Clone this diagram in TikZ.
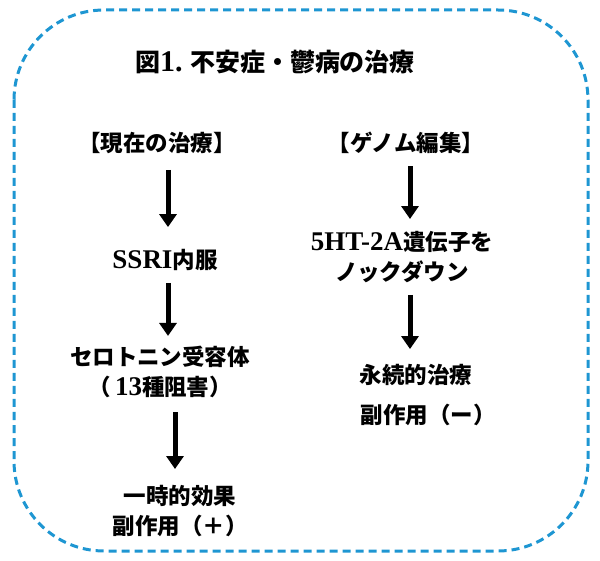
\documentclass[tikz,border=0pt]{standalone}
\usepackage{fontspec}
\setmainfont{Liberation Serif}[Scale=1.2]
\newfontfamily\cjk{Noto Sans CJK JP}
\usetikzlibrary{arrows.meta}
\newcommand\J[1]{{\cjk #1}}
\definecolor{frameblue}{HTML}{1E96D2}
\tikzset{
  lbl/.style={inner sep=0pt, align=center, font=\bfseries\fontsize{22.5}{30}\selectfont},
  ttl/.style={inner sep=0pt, font=\bfseries\fontsize{25}{30}\selectfont},
  bigarrow/.style={line width=5pt, -{Triangle[width=17pt,length=13pt]}},
  frame/.style={draw=frameblue, line width=3pt, dash pattern=on 8pt off 5pt, rounded corners=90pt}
}
\begin{document}
\begin{tikzpicture}[x=1pt,y=-1pt]
\useasboundingbox (0,0) rectangle (600,561);
\draw[frame] (14,10) rectangle (588,551);
\node[ttl] (title) at (275,62) {\J{図}1.\ \J{不安症・鬱病の治療}};
\node[lbl] (h1) at (157,143) {\J{【現在の治療】}};
\node[lbl] (h2) at (406,143) {\J{【ゲノム編集】}};
\node[lbl] (s1) at (165,260) {SSRI\J{内服}};
\node[lbl] (g1) at (402,257) {5HT-2A\J{遺伝子を}\\\J{ノックダウン}};
\node[lbl] (s2) at (160,372) {\J{セロトニン受容体}\\\J{（}\,13\J{種阻害）}};
\node[lbl] (g2) at (416,375) {\J{永続的治療}};
\node[lbl] (g3) at (428,415) {\J{副作用（ー）}};
\node[lbl] (s3) at (180,511) {\J{一時的効果}\\\J{副作用（＋）}};
\coordinate (ax1) at (168,0);
\coordinate (ax2) at (410,0);
\coordinate (ax3) at (175,0);
\draw[bigarrow] (h1.south -| ax1) ++(0,16) -- ([yshift=22pt]s1.north -| ax1);
\draw[bigarrow] (h2.south -| ax2) ++(0,12) -- ([yshift=12pt]g1.north -| ax2);
\draw[bigarrow] (s1.south -| ax1) ++(0,12) -- ([yshift=10pt]s2.north -| ax1);
\draw[bigarrow] (g1.south -| ax2) ++(0,12) -- ([yshift=15pt]g2.north -| ax2);
\draw[bigarrow] (s2.south -| ax3) ++(0,14) -- ([yshift=16pt]s3.north -| ax3);
\end{tikzpicture}
\end{document}
